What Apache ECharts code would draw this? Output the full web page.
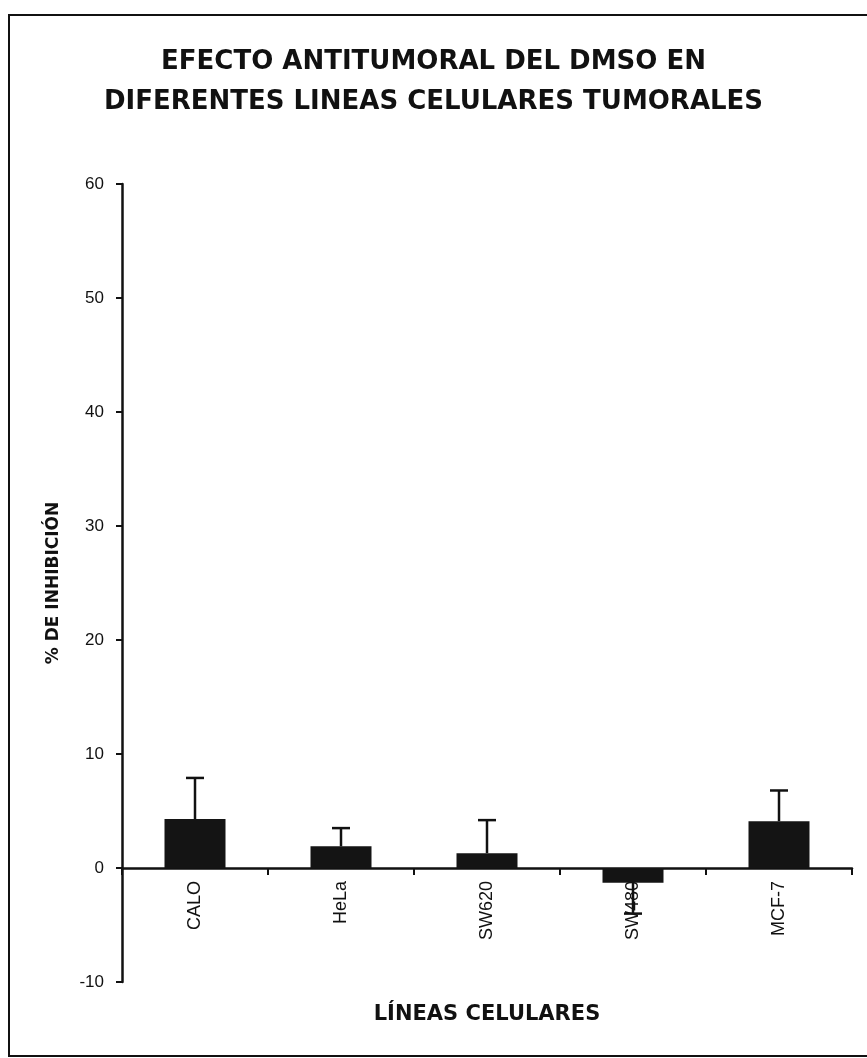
<!DOCTYPE html>
<html>
<head>
<meta charset="utf-8">
<script src="https://cdn.jsdelivr.net/npm/echarts@6/dist/echarts.min.js"></script>
<style>
html,body{margin:0;padding:0;background:#fff;}
#chart{width:867px;height:1058px;}
</style>
</head>
<body>
<div id="chart"></div>
<script>
const titleLines = ['EFECTO ANTITUMORAL DEL DMSO EN', 'DIFERENTES LINEAS CELULARES TUMORALES'];
const categories = ['CALO', 'HeLa', 'SW620', 'SW480', 'MCF-7'];
const inhibition = [4.3, 1.9, 1.3, -1.3, 4.1];
const errors = [3.6, 1.6, 2.9, 2.7, 2.7];
const yTicks = { min: -10, max: 60, interval: 10 };
const yAxisTitle = '% DE INHIBICIÓN';
const xAxisTitle = 'LÍNEAS CELULARES';

const errorData = categories.map((c, i) => [i, inhibition[i], errors[i]]);

const chart = echarts.init(document.getElementById('chart'));
chart.setOption({
  backgroundColor: '#fff',
  animation: false,
  title: {
    text: titleLines.join('\n'),
    left: 'center',
    top: 37,
    textStyle: {
      fontFamily: 'DejaVu Sans',
      fontWeight: 'bold',
      fontSize: 26,
      lineHeight: 40,
      color: '#111'
    }
  },
  graphic: [{
    type: 'rect',
    shape: { x: 9, y: 15, width: 880, height: 1041 },
    style: { fill: 'none', stroke: '#111', lineWidth: 2 },
    silent: true
  }],
  grid: { left: 122, right: 15, top: 184, bottom: 76, containLabel: false, outerBoundsMode: 'none' },
  xAxis: {
    type: 'category',
    data: categories,
    name: xAxisTitle,
    nameLocation: 'middle',
    nameGap: 22,
    nameTextStyle: { fontFamily: 'DejaVu Sans', fontWeight: 'bold', fontSize: 21, color: '#111' },
    axisLine: { onZero: true, lineStyle: { color: '#111', width: 2.5 } },
    axisTick: { show: true, length: 7, lineStyle: { color: '#111', width: 2 } },
    axisLabel: { rotate: 90, margin: -101, fontFamily: 'Liberation Sans', fontSize: 18, color: '#111' },
    splitLine: { show: false }
  },
  yAxis: {
    type: 'value',
    min: yTicks.min,
    max: yTicks.max,
    interval: yTicks.interval,
    name: yAxisTitle,
    nameLocation: 'middle',
    nameGap: 60,
    nameRotate: 90,
    nameTextStyle: { fontFamily: 'DejaVu Sans', fontWeight: 'bold', fontSize: 17, color: '#111' },
    axisLine: { show: true, onZero: false, lineStyle: { color: '#111', width: 2.5 } },
    axisTick: { show: true, length: 6, lineStyle: { color: '#111', width: 2 } },
    axisLabel: { margin: 18, fontFamily: 'Liberation Sans', fontSize: 17, color: '#111' },
    splitLine: { show: false }
  },
  series: [{
    type: 'bar',
    data: inhibition,
    barWidth: 61,
    itemStyle: { color: '#141414' },
    z: 2
  }, {
    type: 'custom',
    data: errorData,
    z: 3,
    renderItem: function (params, api) {
      const idx = api.value(0);
      const v = api.value(1);
      const e = api.value(2);
      const end = v >= 0 ? v + e : v - e;
      const p0 = api.coord([idx, v]);
      const p1 = api.coord([idx, end]);
      const cap = 9;
      const style = { stroke: '#111', lineWidth: 2.5 };
      return {
        type: 'group',
        children: [
          { type: 'line', shape: { x1: p0[0], y1: p0[1], x2: p1[0], y2: p1[1] }, style: style },
          { type: 'line', shape: { x1: p1[0] - cap, y1: p1[1], x2: p1[0] + cap, y2: p1[1] }, style: style }
        ]
      };
    }
  }]
});
</script>
</body>
</html>
